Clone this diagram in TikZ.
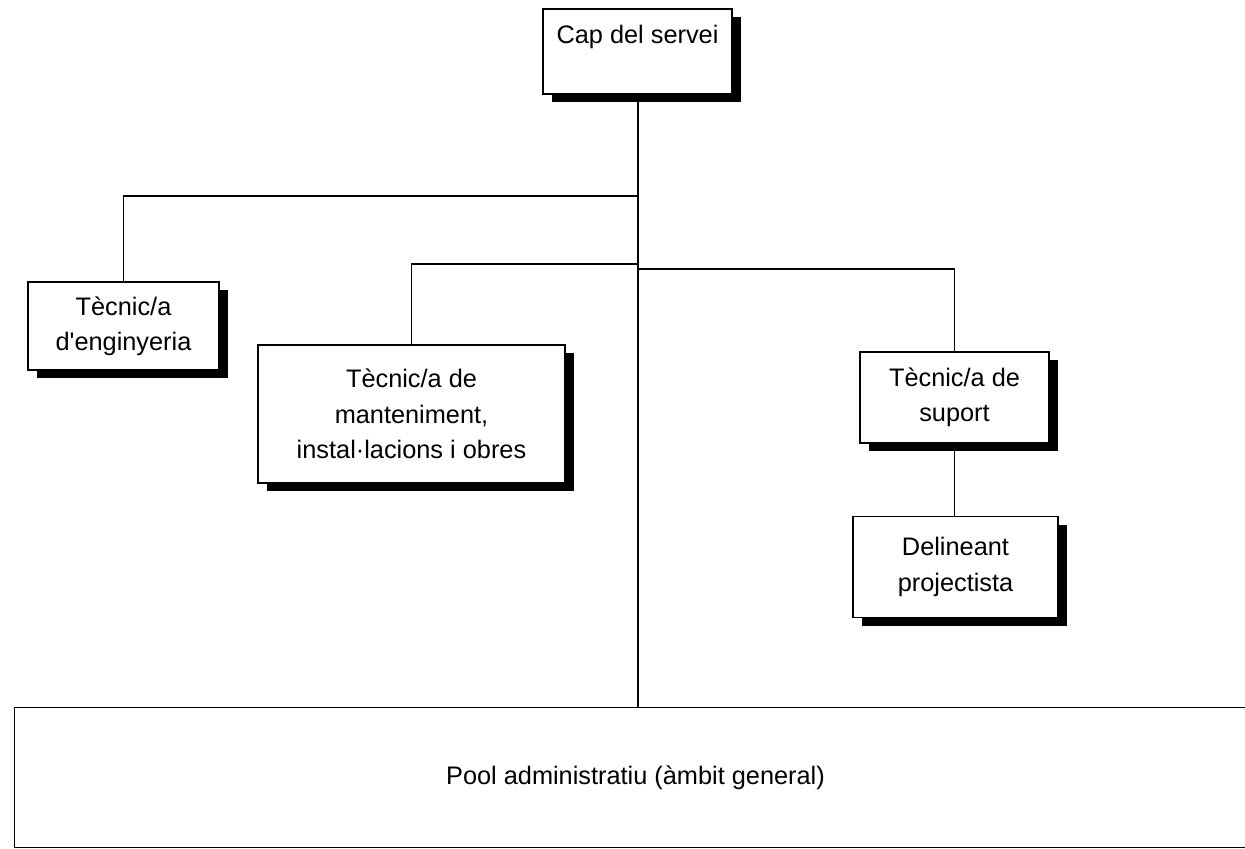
\documentclass[tikz,border=0pt]{standalone}
\usepackage{fontspec}
\setmainfont{Liberation Sans}
\usetikzlibrary{shadows}
\begin{document}
\begin{tikzpicture}[x=0.75pt,y=-0.75pt,
  orgbox/.style={draw=black, line width=1pt, fill=white, align=center, inner sep=0pt,
    font=\fontsize{19}{26.5}\selectfont,
    drop shadow={shadow xshift=6.5pt, shadow yshift=-6pt, fill=black, opacity=1}},
  poolbox/.style={draw=black, line width=1.3pt, fill=white, inner sep=0pt,
    font=\fontsize{19}{26.5}\selectfont},
  link/.style={line width=1pt},
  trunk/.style={line width=1.5pt}]
\useasboundingbox (0,0) rectangle (1245,849);
\clip (0,0) rectangle (1245,849);
\fill[white] (0,0) rectangle (1245,849);
% boxes
\node[orgbox, minimum width=141.75pt, minimum height=63.75pt] (cap) at (637.5,51.5) {Cap del servei\\\mbox{}};
\node[orgbox, minimum width=143.25pt, minimum height=66pt] (eng) at (123.5,326) {Tècnic/a\\d\textquotesingle enginyeria};
\node[orgbox, minimum width=230.25pt, minimum height=103.5pt] (mant) at (411.5,414) {Tècnic/a de\\manteniment,\\instal·lacions i obres};
\node[orgbox, minimum width=141.75pt, minimum height=68.25pt] (sup) at (954.5,397.5) {Tècnic/a de\\suport};
\node[orgbox, minimum width=153.75pt, minimum height=75.75pt] (del) at (955.5,567) {Delineant\\projectista};
\node[poolbox, minimum width=931.5pt, minimum height=105pt] (pool) at (635.5,777.5) {Pool administratiu (àmbit general)};
% junctions
\coordinate (j1) at (637.5,196);
\coordinate (j2) at (637.5,264);
\coordinate (j3) at (637.5,269);
% connectors
\draw[trunk] (cap.south) -- (cap.south |- pool.north);
\draw[link] (j1) -| (eng.north);
\draw[link] (j2) -| (mant.north);
\draw[link] (j3) -| (sup.north);
\draw[link] (sup.south) -- (sup.south |- del.north);
\end{tikzpicture}
\end{document}
